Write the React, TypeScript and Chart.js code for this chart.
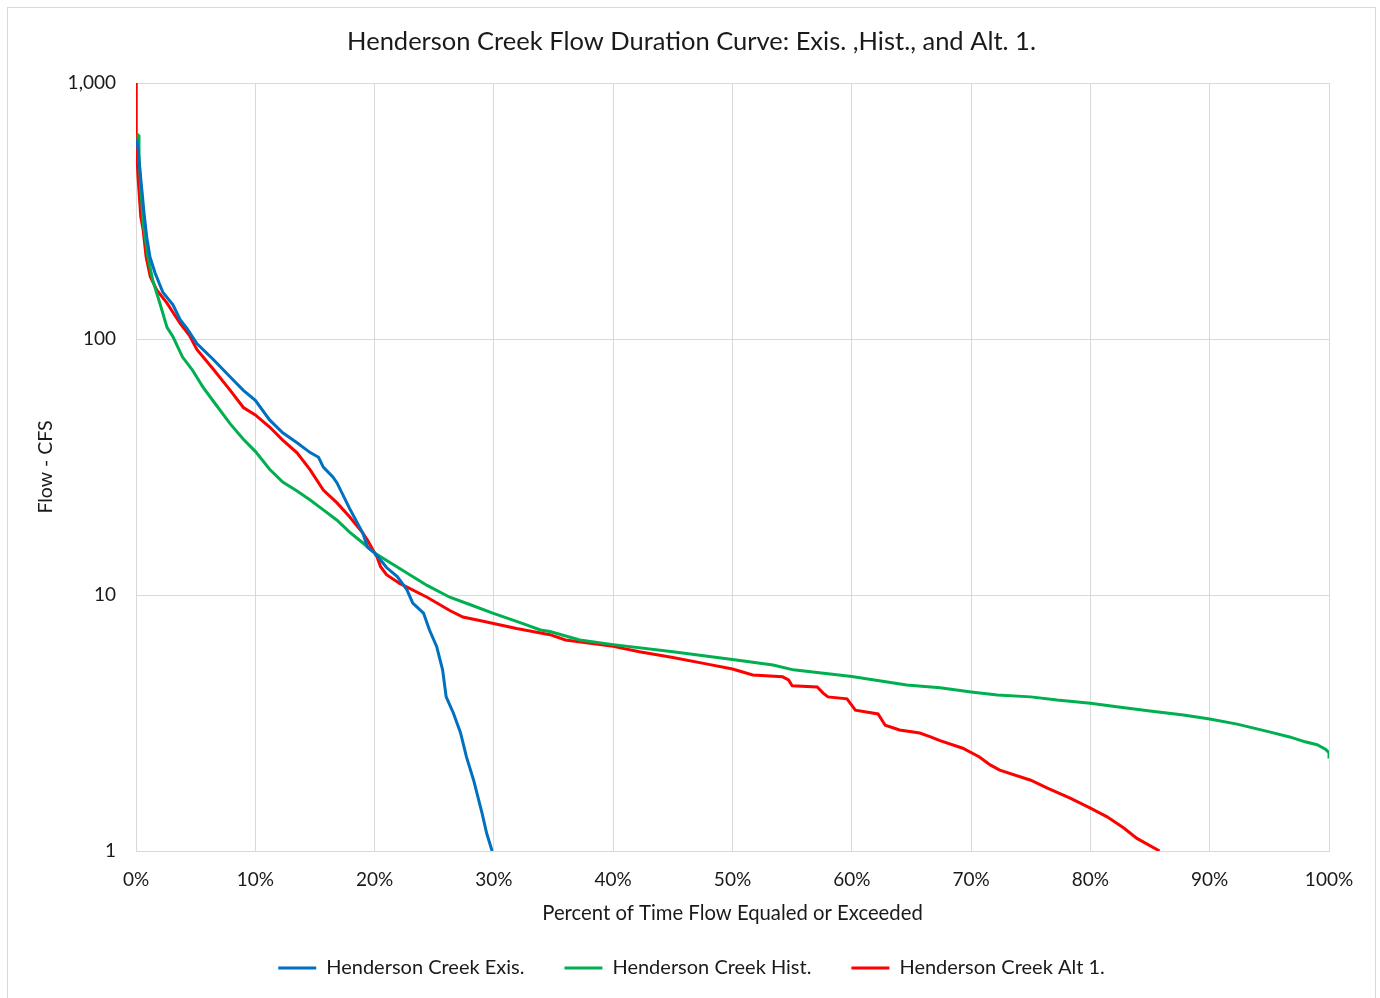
import { useEffect, useRef } from 'react';
import { Chart, registerables } from 'chart.js';

Chart.register(...registerables);

const chartTitle = 'Henderson Creek Flow Duration Curve: Exis. ,Hist., and Alt. 1.';
const xAxisTitle = 'Percent of Time Flow Equaled or Exceeded';
const yAxisTitle = 'Flow - CFS';
const seriesNames = ['Henderson Creek Exis.', 'Henderson Creek Hist.', 'Henderson Creek Alt 1.'];
const seriesColors = ['#0070C0', '#00B050', '#FF0000'];

const xTicks = [0, 10, 20, 30, 40, 50, 60, 70, 80, 90, 100];
const yTicks = [1, 10, 100, 1000];

const exisPct = [0.05, 0.17, 0.33, 0.55, 0.67, 0.9, 1.17, 1.6, 2.26, 3.1, 3.7, 4.27, 5.1, 6.5, 7.9, 9.0, 10.0, 11.2, 12.3, 13.5, 14.6, 15.3, 15.7, 16.5, 16.85, 17.9, 19.0, 19.4, 20.0, 20.5, 21.0, 21.9, 22.7, 23.2, 24.1, 24.6, 25.2, 25.7, 26.0, 26.6, 27.2, 27.7, 28.3, 29.0, 29.4, 29.85];
const exisFlow = [600, 560, 457, 358, 311, 250, 209, 181, 152, 136, 119, 110, 96, 83, 71, 63, 57.6, 48.3, 43, 39.3, 36, 34.5, 31.6, 28.9, 27.4, 21.8, 17.5, 15.4, 14.6, 13.7, 12.8, 11.8, 10.5, 9.3, 8.5, 7.3, 6.3, 5.1, 4.0, 3.46, 2.9, 2.33, 1.89, 1.41, 1.17, 1.0];

const histPct = [0.1, 0.17, 0.25, 0.4, 0.6, 1.0, 1.4, 2.0, 2.6, 3.1, 3.9, 4.7, 5.6, 6.5, 7.9, 9.0, 10.0, 11.2, 12.3, 13.5, 14.6, 15.7, 16.85, 17.9, 19.0, 20.0, 22.1, 24.4, 26.3, 28.2, 29.9, 32.2, 33.9, 34.7, 37.2, 40, 45, 50, 53.4, 55.1, 60, 64.6, 67.4, 70, 72.2, 75, 77.2, 80, 82.2, 85, 87.8, 90, 92.3, 95, 96.7, 98, 99, 99.7, 100, 100];
const histFlow = [630, 627, 514, 392, 284, 209, 170, 138, 111, 102, 85, 76, 65, 57, 46.6, 40.6, 36.4, 31, 27.6, 25.5, 23.5, 21.5, 19.6, 17.6, 16.0, 14.6, 12.7, 10.9, 9.8, 9.1, 8.5, 7.8, 7.3, 7.2, 6.67, 6.4, 6.0, 5.6, 5.33, 5.1, 4.8, 4.45, 4.34, 4.18, 4.07, 4.0, 3.89, 3.78, 3.66, 3.52, 3.4, 3.28, 3.13, 2.92, 2.79, 2.67, 2.6, 2.5, 2.42, 2.3];

const alt1Pct = [0, 0.02, 0.17, 0.4, 0.6, 0.85, 1.2, 1.75, 2.6, 3.7, 4.5, 5.1, 6.5, 7.9, 9.0, 10.0, 11.2, 12.3, 13.5, 14.6, 15.7, 16.85, 17.9, 19.0, 19.4, 20.0, 20.2, 20.5, 21.0, 22.1, 24.4, 26.3, 27.4, 29.1, 31.9, 34.7, 36, 40, 42.2, 45, 47.9, 50, 51.7, 54.2, 54.7, 55, 57.1, 57.6, 58, 59.6, 60.3, 62.2, 62.8, 64.0, 65.7, 66.6, 67.4, 69.3, 70.7, 71.6, 72.4, 75, 76.4, 78.3, 80, 81.4, 82.8, 83.9, 85.8];
const alt1Flow = [1000, 580, 430, 300, 267, 209, 175, 155, 138, 115, 103, 91, 76, 63, 54, 50.5, 45.3, 40.3, 35.9, 30.8, 25.7, 22.9, 20.2, 17.5, 16.4, 14.6, 14.1, 12.9, 12.0, 11.1, 9.8, 8.7, 8.2, 7.9, 7.4, 7.0, 6.67, 6.3, 6.0, 5.7, 5.37, 5.14, 4.87, 4.79, 4.66, 4.42, 4.37, 4.14, 4.0, 3.93, 3.55, 3.43, 3.1, 2.97, 2.89, 2.79, 2.70, 2.52, 2.33, 2.17, 2.07, 1.89, 1.76, 1.61, 1.47, 1.36, 1.23, 1.12, 1.0];

const FONT = 'Lato';
const TEXT = '#1a1a1a';
const GRID = '#d9d9d9';
const CANVAS_W = 1367;
const CANVAS_H = 990;
const PLOT_TOP = 75;
const PLOT_BOTTOM = 843;
const PLOT_LEFT = 128;
const PLOT_RIGHT = 1321;
const SIDE_PAD = CANVAS_W - PLOT_RIGHT;
const PAD_BOTTOM = 10;
const TITLE_SIZE = 25.5;
const YTITLE_SIZE = 19.5;

function pts(xs: number[], ys: number[]) {
  return xs.map((x, i) => ({ x, y: ys[i] }));
}

export default function App() {
  const ref = useRef<HTMLCanvasElement>(null);
  useEffect(() => {
    document.documentElement.style.overflow = 'hidden';
    document.body.style.overflow = 'hidden';
    const series = [pts(exisPct, exisFlow), pts(histPct, histFlow), pts(alt1Pct, alt1Flow)];
    const titleLH = TITLE_SIZE * 1.2;
    const chart = new Chart(ref.current as HTMLCanvasElement, {
      type: 'line',
      data: {
        datasets: series.map((d, i) => ({
          label: seriesNames[i],
          data: d,
          borderColor: seriesColors[i],
          backgroundColor: seriesColors[i],
          borderWidth: 3,
          pointRadius: 0,
          pointStyle: 'line',
          tension: 0,
          fill: false,
        })),
      },
      options: {
        responsive: false,
        animation: false,
        devicePixelRatio: 1,
        layout: { padding: { left: SIDE_PAD, right: SIDE_PAD, top: 0, bottom: PAD_BOTTOM } },
        plugins: {
          title: {
            display: true,
            text: chartTitle,
            color: TEXT,
            font: { family: FONT, size: TITLE_SIZE, weight: 'normal' },
            padding: { top: 34 - titleLH / 2, bottom: PLOT_TOP - 34 - titleLH / 2 },
          },
          legend: {
            position: 'bottom',
            labels: {
              usePointStyle: true,
              pointStyleWidth: 38,
              padding: 40,
              color: TEXT,
              font: { family: FONT, size: 20 },
            },
          },
          tooltip: { enabled: false },
        },
        scales: {
          x: {
            type: 'linear',
            min: 0,
            max: 100,
            afterBuildTicks: (s: any) => {
              s.ticks = xTicks.map((v) => ({ value: v }));
            },
            afterFit: (s: any) => {
              const lg = s.chart.legend;
              s.height = s.chart.height - PAD_BOTTOM - (lg ? lg.height : 0) - PLOT_BOTTOM;
            },
            ticks: {
              autoSkip: false,
              maxRotation: 0,
              padding: 17,
              color: TEXT,
              font: { family: FONT, size: 19 },
              callback: (v: any) => v + '%',
            },
            grid: { color: GRID, lineWidth: 1, drawTicks: false },
            border: { color: GRID, width: 1 },
            title: {
              display: true,
              text: xAxisTitle,
              color: TEXT,
              font: { family: FONT, size: 20.3 },
              padding: { top: 0, bottom: -7.2 },
            },
          },
          y: {
            type: 'logarithmic',
            min: 1,
            max: 1000,
            afterBuildTicks: (s: any) => {
              s.ticks = yTicks.map((v) => ({ value: v }));
            },
            afterFit: (s: any) => {
              s.width = PLOT_LEFT - SIDE_PAD;
            },
            ticks: {
              padding: 20,
              color: TEXT,
              font: { family: FONT, size: 19 },
              callback: (v: any) => Number(v).toLocaleString('en-US'),
            },
            grid: { color: GRID, lineWidth: 1, drawTicks: false },
            border: { color: GRID, width: 1 },
            title: {
              display: true,
              text: yAxisTitle,
              color: TEXT,
              font: { family: FONT, size: YTITLE_SIZE },
              padding: { top: 38 - SIDE_PAD - (YTITLE_SIZE * 1.2) / 2, bottom: 0 },
            },
          },
        },
      },
    } as any);
    return () => chart.destroy();
  }, []);
  return (
    <div
      style={{
        position: 'absolute',
        left: 7,
        top: 7,
        width: CANVAS_W,
        height: CANVAS_H + 1,
        border: '1px solid #d9d9d9',
        background: '#fff',
      }}
    >
      <canvas ref={ref} width={CANVAS_W} height={CANVAS_H} style={{ display: 'block' }} />
    </div>
  );
}
